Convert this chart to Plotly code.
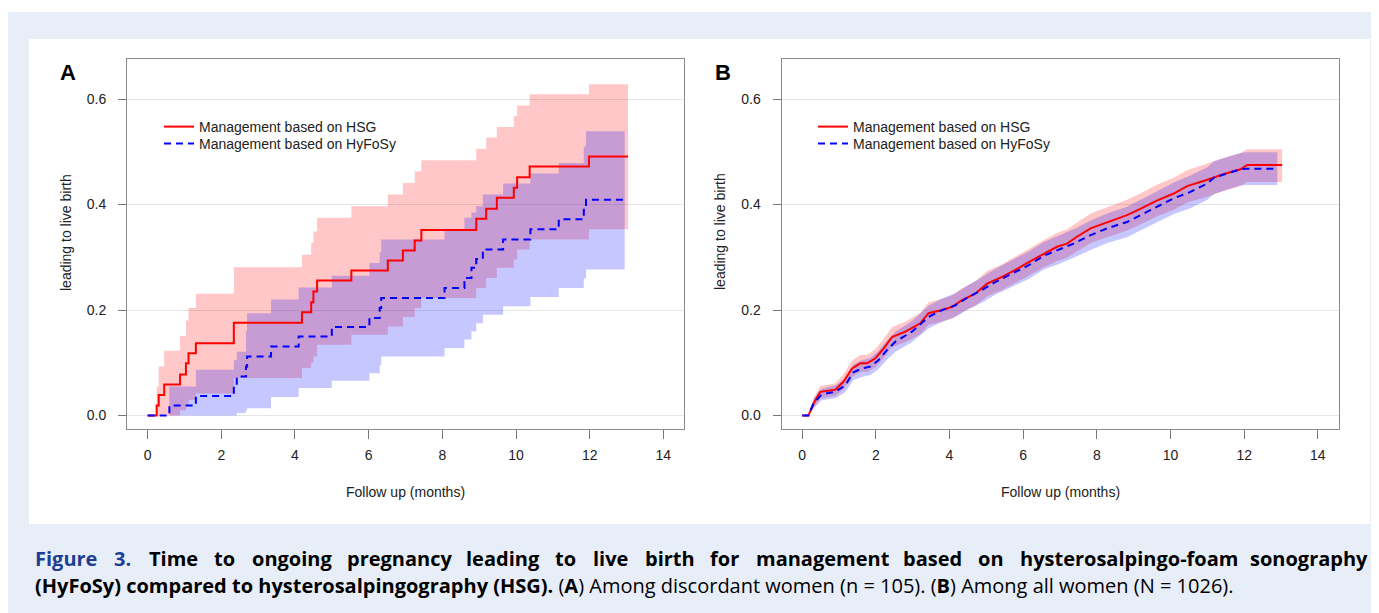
import plotly.graph_objects as go

# page is 1379x613; the html body adds an 8px margin, so the figure is drawn 8px in
PAGE_W, PAGE_H, OFF = 1379, 613, 8
W, H = PAGE_W - OFF, PAGE_H - OFF

# ---------------- Panel A data (discordant women) ----------------
a_hsg_t  = [0, 0.245, 0.30, 0.45, 0.88, 1.04, 1.11, 1.31, 2.34, 4.19, 4.44, 4.50, 4.60, 5.53,
            6.52, 6.93, 7.25, 7.43, 8.92, 9.19, 9.48, 9.94, 10.03, 10.37, 11.98, 13.04]
a_hsg_s  = [0, 0.019, 0.039, 0.059, 0.078, 0.099, 0.118, 0.137, 0.176, 0.196, 0.215, 0.235, 0.256, 0.275,
            0.294, 0.313, 0.332, 0.352, 0.373, 0.392, 0.413, 0.432, 0.452, 0.472, 0.491, 0.491]
a_hsg_lo = [0, 0, 0, 0, 0.010, 0.020, 0.030, 0.042, 0.071, 0.090, 0.100, 0.112, 0.134, 0.153,
            0.169, 0.187, 0.204, 0.223, 0.242, 0.261, 0.280, 0.296, 0.315, 0.334, 0.353, 0.353]
a_hsg_hi = [0, 0.055, 0.093, 0.123, 0.151, 0.180, 0.204, 0.231, 0.281, 0.305, 0.327, 0.349, 0.375, 0.397,
            0.419, 0.441, 0.463, 0.484, 0.506, 0.527, 0.547, 0.568, 0.588, 0.609, 0.628, 0.628]

a_hyf_t  = [0, 0.59, 1.31, 2.34, 2.42, 2.67, 2.70, 3.35, 4.10, 5.00, 6.02, 6.30, 6.34, 8.06,
            8.60, 8.79, 8.92, 9.10, 9.65, 10.39, 11.16, 11.84, 11.90, 12.95]
a_hyf_s  = [0, 0.019, 0.037, 0.055, 0.074, 0.093, 0.112, 0.131, 0.150, 0.168, 0.185, 0.204, 0.223, 0.242,
            0.261, 0.280, 0.297, 0.315, 0.334, 0.353, 0.372, 0.390, 0.409, 0.409]
a_hyf_lo = [0, 0, 0, 0, 0.005, 0.010, 0.014, 0.035, 0.052, 0.066, 0.080, 0.096, 0.112, 0.128,
            0.144, 0.160, 0.175, 0.191, 0.207, 0.225, 0.242, 0.260, 0.277, 0.277]
a_hyf_hi = [0, 0.055, 0.087, 0.105, 0.121, 0.160, 0.194, 0.220, 0.243, 0.265, 0.289, 0.310, 0.334, 0.353,
            0.375, 0.385, 0.397, 0.419, 0.440, 0.459, 0.479, 0.510, 0.539, 0.539]

# ---------------- Panel B data (all women) ----------------
b_hsg_t  = [0, 0.17, 0.31, 0.49, 0.90, 1.12, 1.35, 1.58, 1.76, 1.98, 2.21, 2.44, 2.80, 3.21, 3.43, 3.80,
            4.07, 4.34, 4.70, 5.02, 5.43, 5.79, 6.15, 6.56, 6.92, 7.19, 7.46, 7.83, 8.28, 8.82, 9.18,
            9.64, 10.09, 10.45, 11.00, 11.45, 11.90, 12.08, 13.03]
b_hsg_s  = [0, 0, 0.023, 0.045, 0.049, 0.064, 0.089, 0.099, 0.099, 0.108, 0.127, 0.149, 0.159, 0.175, 0.194, 0.200,
            0.206, 0.219, 0.231, 0.250, 0.263, 0.276, 0.291, 0.307, 0.320, 0.326, 0.339, 0.355, 0.367, 0.380, 0.392,
            0.408, 0.421, 0.435, 0.447, 0.458, 0.467, 0.475, 0.475]
b_hsg_lo = [0, 0, 0.014, 0.033, 0.037, 0.050, 0.073, 0.083, 0.083, 0.091, 0.109, 0.130, 0.139, 0.154, 0.172, 0.178,
            0.184, 0.196, 0.208, 0.226, 0.238, 0.251, 0.265, 0.281, 0.293, 0.299, 0.311, 0.327, 0.338, 0.351, 0.362,
            0.378, 0.390, 0.404, 0.415, 0.426, 0.435, 0.443, 0.443]
b_hsg_hi = [0, 0, 0.032, 0.056, 0.061, 0.078, 0.104, 0.115, 0.115, 0.125, 0.145, 0.168, 0.178, 0.195, 0.215, 0.221,
            0.228, 0.241, 0.254, 0.274, 0.287, 0.301, 0.316, 0.333, 0.346, 0.353, 0.366, 0.383, 0.395, 0.409, 0.421,
            0.438, 0.451, 0.465, 0.478, 0.489, 0.498, 0.505, 0.505]

b_hyf_t  = [0, 0.17, 0.31, 0.53, 0.90, 1.17, 1.39, 1.62, 1.85, 2.07, 2.30, 2.53, 2.98, 3.43, 3.80, 4.16,
            4.52, 4.88, 5.24, 5.70, 6.15, 6.56, 6.92, 7.37, 7.83, 8.28, 8.82, 9.18, 9.64, 10.09, 10.54,
            11.00, 11.18, 11.54, 11.90, 12.08, 12.90]
b_hyf_s  = [0, 0, 0.023, 0.040, 0.045, 0.057, 0.082, 0.089, 0.093, 0.105, 0.124, 0.140, 0.159, 0.187, 0.200, 0.209,
            0.225, 0.238, 0.253, 0.269, 0.285, 0.303, 0.313, 0.326, 0.342, 0.355, 0.367, 0.380, 0.396, 0.412, 0.424,
            0.440, 0.451, 0.459, 0.467, 0.468, 0.468]
b_hyf_lo = [0, 0, 0.014, 0.029, 0.033, 0.044, 0.067, 0.073, 0.077, 0.088, 0.106, 0.121, 0.139, 0.165, 0.178, 0.187,
            0.202, 0.214, 0.229, 0.244, 0.259, 0.277, 0.286, 0.299, 0.314, 0.327, 0.338, 0.351, 0.366, 0.382, 0.393,
            0.409, 0.420, 0.428, 0.436, 0.437, 0.437]
b_hyf_hi = [0, 0, 0.032, 0.051, 0.057, 0.070, 0.097, 0.105, 0.109, 0.122, 0.142, 0.159, 0.179, 0.208, 0.222, 0.232,
            0.248, 0.262, 0.278, 0.294, 0.311, 0.329, 0.340, 0.353, 0.370, 0.383, 0.396, 0.409, 0.425, 0.442, 0.455,
            0.471, 0.482, 0.490, 0.498, 0.499, 0.499]

# ---------------- Labels ----------------
series_names = ["Management based on HSG", "Management based on HyFoSy"]
x_ticks = [0, 2, 4, 6, 8, 10, 12, 14]
y_ticks = [0.0, 0.2, 0.4, 0.6]
y_tick_labels = ["0.0", "0.2", "0.4", "0.6"]
x_title = "Follow up (months)"
y_title = "leading to live birth"
panel_letters = ["A", "B"]
caption_line1 = ("Figure 3.", "Time to ongoing pregnancy leading to live birth for management based on "
                 "hysterosalpingo-foam sonography")
caption_line2 = ("<b>(HyFoSy) compared to hysterosalpingography (HSG).</b> (<b>A</b>) Among discordant "
                 "women (n = 105). (<b>B</b>) Among all women (N = 1026).")

# ---------------- Style ----------------
RED = "rgb(255,0,0)"
BLUE = "rgb(0,0,255)"
RED_FILL = "rgba(255,0,0,0.22)"
BLUE_FILL = "rgba(0,0,255,0.22)"
AX_FONT = dict(family="Liberation Sans, Arial, sans-serif", size=14, color="#222222")
CAP_FONT = "Open Sans, sans-serif"


def px(x):
    return (x - OFF) / W


def py(y):
    return 1 - (y - OFF) / H


fig = go.Figure()


def add_panel(xa, ya, legends, shape, hsg, hyf):
    (ht, hs, hlo, hhi), (ft, fs, flo, fhi) = hsg, hyf
    for t, lo, hi, col in ((ht, hlo, hhi, RED_FILL), (ft, flo, fhi, BLUE_FILL)):
        fig.add_trace(go.Scatter(x=t, y=lo, mode="lines", line=dict(width=0, shape=shape),
                                 hoverinfo="skip", showlegend=False, xaxis=xa, yaxis=ya))
        fig.add_trace(go.Scatter(x=t, y=hi, mode="lines", line=dict(width=0, shape=shape),
                                 fill="tonexty", fillcolor=col, hoverinfo="skip",
                                 showlegend=False, xaxis=xa, yaxis=ya))
    fig.add_trace(go.Scatter(x=ht, y=hs, mode="lines", name=series_names[0],
                             line=dict(color=RED, width=2, shape=shape),
                             xaxis=xa, yaxis=ya, legend=legends[0], showlegend=True))
    fig.add_trace(go.Scatter(x=ft, y=fs, mode="lines", name=series_names[1],
                             line=dict(color=BLUE, width=2, shape=shape, dash="7px,5px"),
                             xaxis=xa, yaxis=ya, legend=legends[1], showlegend=True))


add_panel("x", "y", ("legend", "legend2"), "hv",
          (a_hsg_t, a_hsg_s, a_hsg_lo, a_hsg_hi), (a_hyf_t, a_hyf_s, a_hyf_lo, a_hyf_hi))
add_panel("x2", "y2", ("legend3", "legend4"), "linear",
          (b_hsg_t, b_hsg_s, b_hsg_lo, b_hsg_hi), (b_hyf_t, b_hyf_s, b_hyf_lo, b_hyf_hi))

ydom = [py(429), py(59)]
xdomA = [px(127), px(684)]
xdomB = [px(781.5), px(1338.5)]

xcommon = dict(range=[-0.56, 14.56], tickvals=x_ticks, ticktext=[str(v) for v in x_ticks],
               showgrid=False, zeroline=False, showline=True, linecolor="#8a8a8a", linewidth=1,
               mirror=True, ticks="outside", ticklen=9, tickcolor="#777777", tickwidth=1,
               tickfont=AX_FONT, ticklabelstandoff=4)
ycommon = dict(range=[-0.0255, 0.676], tickvals=y_ticks, ticktext=y_tick_labels,
               showgrid=True, gridcolor="#e6e6e6", gridwidth=1, zeroline=False,
               showline=True, linecolor="#8a8a8a", linewidth=1, mirror=True,
               ticks="outside", ticklen=8, tickcolor="#777777", tickwidth=1,
               tickfont=AX_FONT, ticklabelstandoff=9)


def leg(x, y):
    return dict(x=px(x), y=py(y), xanchor="left", yanchor="middle", traceorder="normal",
                bgcolor="rgba(0,0,0,0)", font=AX_FONT, tracegroupgap=0)


fig.update_layout(
    width=W, height=H, autosize=False,
    margin=dict(l=0, r=0, t=0, b=0, pad=0),
    paper_bgcolor="white", plot_bgcolor="white",
    xaxis=dict(domain=xdomA, anchor="y", **xcommon),
    yaxis=dict(domain=ydom, anchor="x", **ycommon),
    xaxis2=dict(domain=xdomB, anchor="y2", **xcommon),
    yaxis2=dict(domain=ydom, anchor="x2", **ycommon),
    legend=leg(159, 127), legend2=leg(159, 144),
    legend3=leg(813, 127), legend4=leg(813, 144),
    showlegend=True,
)

# background boxes
fig.add_shape(type="rect", xref="paper", yref="paper", x0=0, x1=1, y0=0, y1=py(12),
              fillcolor="#e8eef8", line=dict(width=0), layer="below")
fig.add_shape(type="rect", xref="paper", yref="paper", x0=px(29), x1=px(1370), y0=py(524), y1=py(39),
              fillcolor="white", line=dict(width=0), layer="below")

ann = []
# axis titles
for cx, ly in ((405.5, 66), (1060, 720)):
    ann.append(dict(x=px(cx), y=py(492), xref="paper", yref="paper", text=x_title, showarrow=False,
                    font=AX_FONT, xanchor="center", yanchor="middle"))
    ann.append(dict(x=px(ly), y=py(232), xref="paper", yref="paper", text=y_title, showarrow=False,
                    font=AX_FONT, textangle=-90, xanchor="center", yanchor="middle"))
# panel letters
for lx, letter in ((68, panel_letters[0]), (723, panel_letters[1])):
    ann.append(dict(x=px(lx), y=py(72), xref="paper", yref="paper", text="<b>%s</b>" % letter,
                    showarrow=False, font=dict(family="Liberation Sans, Arial, sans-serif", size=22,
                                               color="black"),
                    xanchor="center", yanchor="middle"))

# caption line 1, justified word by word
CW = {' ': .26, 'a': .575, 'b': .618, 'c': .49, 'd': .618, 'e': .58, 'f': .38, 'g': .55, 'h': .64,
      'i': .295, 'l': .295, 'm': .966, 'n': .64, 'o': .608, 'p': .618, 'r': .441, 's': .487, 't': .4,
      'u': .64, 'v': .563, 'y': .563, 'F': .57, 'T': .57, '3': .57, '.': .29, '-': .32}
cap_size = 20
words = [(w, True) for w in caption_line1[0].split()] + [(w, False) for w in caption_line1[1].split()]
widths = [sum(CW.get(ch, .6) for ch in w) * cap_size for w, _ in words]
left, right = 33, 1363
gap = (right - left - sum(widths)) / (len(words) - 1)
xpos = left
for (w, blue), wd in zip(words, widths):
    ann.append(dict(x=px(xpos), y=py(558), xref="paper", yref="paper", text="<b>%s</b>" % w,
                    showarrow=False, xanchor="left", yanchor="middle",
                    font=dict(family=CAP_FONT, size=cap_size, color="#1c3f94" if blue else "black")))
    xpos += wd + gap
ann.append(dict(x=px(33), y=py(585), xref="paper", yref="paper", text=caption_line2,
                showarrow=False, xanchor="left", yanchor="middle",
                font=dict(family=CAP_FONT, size=cap_size, color="black")))

fig.update_layout(annotations=ann)

fig.write_html("out.html", include_plotlyjs=True, config={"displayModeBar": False})
